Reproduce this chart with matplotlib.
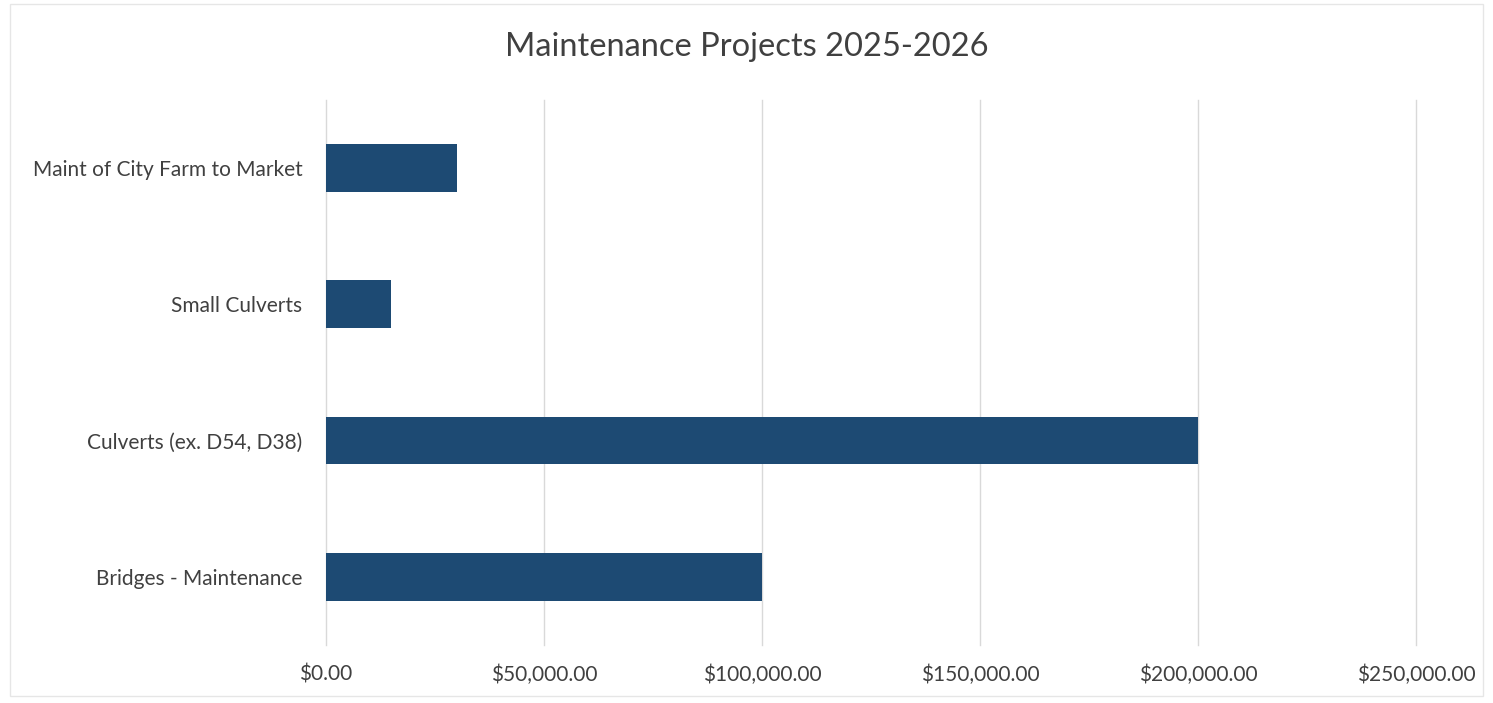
import matplotlib.pyplot as plt
from matplotlib.ticker import FuncFormatter
from matplotlib.patches import Rectangle

categories = ['Maint of City Farm to Market', 'Small Culverts',
              'Culverts (ex. D54, D38)', 'Bridges - Maintenance']
amounts = [30000, 15000, 200000, 100000]
x_ticks = [0, 50000, 100000, 150000, 200000, 250000]

plt.rcParams['font.family'] = ['Lato', 'DejaVu Sans']

fig = plt.figure(figsize=(14.93, 7.03), dpi=100)
ax = fig.add_axes([0.2184, 0.0825, 0.7300, 0.7755])

pos = list(range(len(categories)))
ax.barh(pos, amounts, height=0.35, color='#1d4a73')
ax.set_yticks(pos)
ax.set_yticklabels(categories)
ax.set_ylim(len(categories) - 0.5, -0.5)

ax.set_xlim(0, 250000)
ax.set_xticks(x_ticks)
ax.xaxis.set_major_formatter(FuncFormatter(lambda v, p: '${:,.2f}'.format(v)))
ax.grid(axis='x', color='#d9d9d9', linewidth=1)
for gl in ax.get_xgridlines():
    gl.set_clip_on(False)
ax.set_axisbelow(True)
for s in ax.spines.values():
    s.set_visible(False)
ax.tick_params(length=0, labelsize=15, colors='#404040')
ax.tick_params(axis='y', pad=17)
ax.tick_params(axis='x', pad=14)

fig.suptitle('Maintenance Projects 2025-2026', y=0.955, fontsize=23.5, color='#404040')
fig.patches.append(Rectangle((0.007, 0.01), 0.986, 0.985, transform=fig.transFigure,
                             fill=False, edgecolor='#e6e6e6', linewidth=1))

fig.savefig('out.png', dpi=100)
